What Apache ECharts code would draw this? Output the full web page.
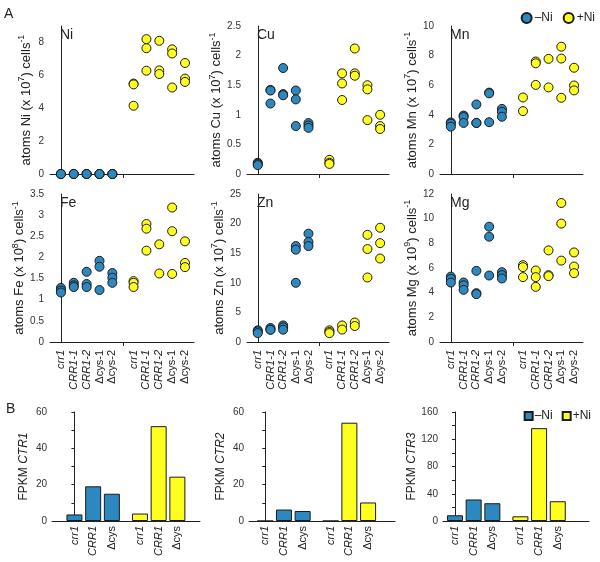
<!DOCTYPE html>
<html><head><meta charset="utf-8">
<script src="https://cdn.jsdelivr.net/npm/echarts@6/dist/echarts.min.js"></script>
<style>html,body{margin:0;padding:0;background:#fff}#c{width:600px;height:562px}</style>
</head><body><div id="c"></div>
<script>
// ---------- DATA ----------
const strains = ['crr1', 'CRR1-1', 'CRR1-2', 'Δcys-1', 'Δcys-2'];
const italicNames = ['crr1', 'CRR1-1', 'CRR1-2', 'CRR1'];
const seriesNames = ['\u2013Ni', '+Ni'];

// panel A: replicate values per strain (−Ni / +Ni)
const niMinus = [[0, 0, 0], [0, 0, 0], [0, 0, 0], [0, 0, 0], [0, 0, 0]];
const niPlus  = [[5.5, 5.45, 4.15], [8.2, 7.65, 6.28], [8.1, 6.3, 6.08], [7.58, 7.33, 5.26], [6.75, 5.8, 5.6]];
const cuMinus = [[0.19, 0.17, 0.15], [1.42, 1.41, 1.19], [1.79, 1.35, 1.33], [1.41, 1.26, 0.81], [0.86, 0.82, 0.78]];
const cuPlus  = [[0.24, 0.19, 0.17], [1.7, 1.53, 1.25], [2.12, 1.7, 1.66], [1.5, 1.43, 0.91], [1.0, 0.81, 0.76]];
const mnMinus = [[3.48, 3.4, 3.2], [3.95, 3.85, 3.45], [4.7, 3.45, 3.45], [5.5, 5.45, 3.5], [4.4, 4.2, 3.87]];
const mnPlus  = [[5.17, 4.25], [7.6, 7.48, 6.02], [7.78, 5.85], [8.6, 7.8, 5.15], [7.18, 5.98, 5.65]];
const feMinus = [[1.28, 1.22, 1.17], [1.4, 1.34, 1.3], [1.66, 1.37, 1.3], [1.92, 1.78, 1.23], [1.63, 1.52, 1.4]];
const fePlus  = [[1.44, 1.4, 1.3], [2.79, 2.68, 2.16], [2.31, 1.62], [3.18, 2.62, 1.61], [2.38, 1.87, 1.77]];
const znMinus = [[1.97, 1.8, 1.5], [2.37, 2.1, 2.05], [2.8, 2.48, 2.08], [16.2, 15.6, 10.0], [18.3, 16.9, 16.2]];
const znPlus  = [[1.97, 1.7, 1.5], [2.8, 2.1], [3.3, 2.7], [18.1, 15.7, 10.9], [19.3, 16.7, 14.1]];
const mgMinus = [[5.3, 5.12, 4.82], [4.82, 4.6, 4.23], [5.77, 3.96, 3.88], [9.35, 8.54, 5.39], [5.66, 5.42, 5.15]];
const mgPlus  = [[6.23, 6.07, 5.26], [5.8, 5.26, 4.47], [7.43, 5.42, 5.34], [11.27, 9.6, 6.6], [7.26, 6.12, 5.58]];

const elements = ['Ni', 'Cu', 'Mn', 'Fe', 'Zn', 'Mg'];
const exponents = ['7', '7', '7', '8', '7', '9'];
const yMaxA = [9, 2.5, 10, 3.5, 25, 12];
const yIntervalA = [2, 0.5, 2, 0.5, 5, 2];
const minusA = [niMinus, cuMinus, mnMinus, feMinus, znMinus, mgMinus];
const plusA = [niPlus, cuPlus, mnPlus, fePlus, znPlus, mgPlus];

// panel B: FPKM
const bStrains = ['crr1', 'CRR1', 'Δcys'];
const genes = ['CTR1', 'CTR2', 'CTR3'];
const ctr1Minus = [3.6, 19.1, 15];
const ctr1Plus  = [4.1, 52.2, 24.4];
const ctr2Minus = [0, 6.3, 5.5];
const ctr2Plus  = [0, 54.1, 10.2];
const ctr3Minus = [8.4, 31.6, 26.1];
const ctr3Plus  = [6.9, 136.3, 29];
const minusB = [ctr1Minus, ctr2Minus, ctr3Minus];
const plusB = [ctr1Plus, ctr2Plus, ctr3Plus];
const yMaxB = [60, 60, 160];
const yIntervalB = [10, 10, 20];

// ---------- LAYOUT / STYLE ----------
const BLUE = '#2E88C0', YELLOW = '#FFFF1F', EDGE = '#1a1a1a', INK = '#222';
const FONT = 'Liberation Sans, Arial, Helvetica, sans-serif';
const gridsA = [
  {left: 50, top: 26, width: 144, height: 148},
  {left: 247, top: 26, width: 142, height: 148},
  {left: 440, top: 26, width: 143, height: 148},
  {left: 50, top: 194, width: 144, height: 148},
  {left: 247, top: 194, width: 142, height: 148},
  {left: 440, top: 194, width: 143, height: 148}
];
const gridsB = [
  {left: 52, top: 412, width: 148, height: 109},
  {left: 249, top: 412, width: 146, height: 109},
  {left: 443, top: 412, width: 146, height: 109}
];
const xRangeB = [[-1.2, 6.71], [-0.87, 6.94], [-0.64, 7.17]];
const GROUP_STEP_A = 5.65, GROUP_STEP_B = 3.5;
const xA = (g, i) => i + g * GROUP_STEP_A;
const xB = (g, i) => i + g * GROUP_STEP_B;
const xsA = [], labsA = [];
[0, 1].forEach(g => strains.forEach((s, i) => { xsA.push(xA(g, i)); labsA.push(s); }));
const xsB = [], labsB = [];
[0, 1].forEach(g => bStrains.forEach((s, i) => { xsB.push(xB(g, i)); labsB.push(s); }));

function labelFmt(xs, labs) {
  return function (v) {
    const k = xs.findIndex(x => Math.abs(x - v) < 1e-6);
    if (k < 0) return '';
    const t = labs[k];
    return italicNames.includes(t) ? '{i|' + t + '}' : t;
  };
}
const axisLineStyle = {color: INK, width: 1};

const grid = [], xAxis = [], yAxis = [], series = [], title = [];

title.push({text: 'A', left: 4, top: 7, padding: 0, textStyle: {fontSize: 14, fontWeight: 'normal', color: INK, fontFamily: FONT}});
title.push({text: 'B', left: 6, top: 402, padding: 0, textStyle: {fontSize: 14, fontWeight: 'normal', color: INK, fontFamily: FONT}});

elements.forEach((el, k) => {
  const g = gridsA[k];
  grid.push(g);
  title.push({text: el, left: g.left + 10, top: g.top + 2, padding: 0,
    textStyle: {fontSize: 14, fontWeight: 'normal', color: INK, fontFamily: FONT}});
  const bottomRow = k >= 3;
  xAxis.push({
    gridIndex: k, type: 'value', min: -0.85, max: 10.35,
    axisLine: {show: true, onZero: false, lineStyle: axisLineStyle},
    splitLine: {show: false},
    axisTick: {show: true, customValues: [4.85], length: 4, lineStyle: axisLineStyle},
    axisLabel: bottomRow ? {
      customValues: xsA, rotate: 90, margin: 8, fontSize: 11, color: INK, fontFamily: FONT,
      formatter: labelFmt(xsA, labsA),
      rich: {i: {fontStyle: 'italic', fontSize: 11, color: INK, fontFamily: FONT}}
    } : {show: false}
  });
  yAxis.push({
    gridIndex: k, type: 'value', min: 0, max: yMaxA[k], interval: yIntervalA[k],
    axisLine: {show: true, lineStyle: axisLineStyle},
    axisTick: {show: false}, splitLine: {show: false},
    axisLabel: {fontSize: 10, color: '#333', margin: 6, fontFamily: FONT, showMaxLabel: k === 0 ? false : null},
    name: '{n|atoms ' + el + ' (x 10}{s|' + exponents[k] + '}{n|) cells}{s|-1}',
    nameLocation: 'middle', nameGap: 15,
    nameTextStyle: {color: INK, fontFamily: FONT,
      rich: {n: {fontSize: 13, lineHeight: 18, color: INK, fontFamily: FONT},
             s: {fontSize: 9, lineHeight: 9, verticalAlign: 'top', color: INK, fontFamily: FONT}}}
  });
  [minusA[k], plusA[k]].forEach((vals, gi) => {
    const data = [];
    vals.forEach((reps, i) => reps.forEach(v => data.push([xA(gi, i), v])));
    series.push({
      type: 'scatter', name: seriesNames[gi], xAxisIndex: k, yAxisIndex: k,
      symbol: 'circle', symbolSize: 9, data,
      itemStyle: {color: gi === 0 ? BLUE : YELLOW, borderColor: EDGE, borderWidth: 1, opacity: 1}
    });
  });
});

genes.forEach((gene, j) => {
  const k = 6 + j;
  const g = gridsB[j];
  grid.push(g);
  xAxis.push({
    gridIndex: k, type: 'value', min: xRangeB[j][0], max: xRangeB[j][1],
    axisLine: {show: true, onZero: false, lineStyle: axisLineStyle},
    splitLine: {show: false}, axisTick: {show: false},
    axisLabel: {
      customValues: xsB, rotate: 90, margin: 5, fontSize: 11, color: INK, fontFamily: FONT,
      formatter: labelFmt(xsB, labsB),
      rich: {i: {fontStyle: 'italic', fontSize: 11, color: INK, fontFamily: FONT}}
    }
  });
  const iv = yIntervalB[j];
  yAxis.push({
    gridIndex: k, type: 'value', min: 0, max: yMaxB[j], interval: iv,
    axisLine: {show: true, lineStyle: axisLineStyle},
    axisTick: {show: true, length: 3, lineStyle: axisLineStyle}, splitLine: {show: false},
    axisLabel: {fontSize: 10, color: '#333', margin: 5, fontFamily: FONT,
      formatter: v => (Math.round(v / iv) % 2 === 0 ? String(v) : '')},
    name: '{n|FPKM }{g|' + gene + '}',
    nameLocation: 'middle', nameGap: 22,
    nameTextStyle: {color: INK, fontFamily: FONT,
      rich: {n: {fontSize: 12, color: INK, fontFamily: FONT},
             g: {fontSize: 12, fontStyle: 'italic', color: INK, fontFamily: FONT}}}
  });
  [minusB[j], plusB[j]].forEach((vals, gi) => {
    series.push({
      type: 'bar', name: seriesNames[gi], xAxisIndex: k, yAxisIndex: k,
      barWidth: 16, barGap: '-100%',
      data: vals.map((v, i) => [xB(gi, i), v]),
      itemStyle: {color: gi === 0 ? BLUE : YELLOW, borderColor: EDGE, borderWidth: 1}
    });
  });
});

const option = {
  animation: false,
  backgroundColor: '#fff',
  textStyle: {fontFamily: FONT},
  title,
  legend: [
    {orient: 'horizontal', right: 0, top: 7, selectedMode: false, itemWidth: 10, itemHeight: 10, itemGap: 10,
     textStyle: {fontSize: 12, color: INK, fontFamily: FONT, padding: [0, 0, 0, -2]},
     data: [{name: seriesNames[0], icon: 'circle'}, {name: seriesNames[1], icon: 'circle'}]},
    {orient: 'horizontal', right: 4, top: 405, selectedMode: false, itemWidth: 8, itemHeight: 8, itemGap: 9,
     textStyle: {fontSize: 12, color: INK, fontFamily: FONT, padding: [0, 0, 0, -3]},
     data: [{name: seriesNames[0], icon: 'rect'}, {name: seriesNames[1], icon: 'rect'}]}
  ],
  grid, xAxis, yAxis, series
};
const chart = echarts.init(document.getElementById('c'), null, {renderer: 'canvas'});
chart.setOption(option);
</script></body></html>
